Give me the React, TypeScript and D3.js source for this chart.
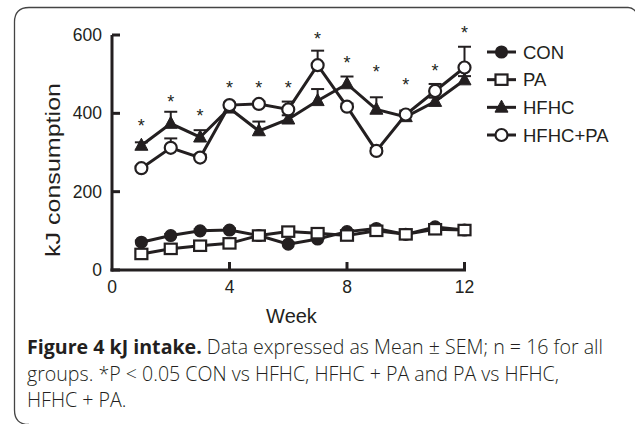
import React from "react";
import * as d3 from "d3";

const weeks = [1, 2, 3, 4, 5, 6, 7, 8, 9, 10, 11, 12];
const conMean = [71, 88, 100, 102, 88, 66, 79, 98, 106, 91, 110, 102];
const conSem = [4, 4, 4, 4, 4, 4, 4, 4, 4, 4, 4, 4];
const paMean = [41, 54, 62, 68, 88, 98, 94, 88, 100, 91, 104, 102];
const paSem = [4, 4, 4, 4, 4, 4, 4, 4, 4, 4, 4, 4];
const hfhcMean = [318, 374, 339, 413, 355, 385, 432, 475, 410, 391, 430, 485];
const hfhcSem = [8, 30, 18, 8, 24, 10, 30, 19, 31, 8, 10, 10];
const hfhcPaMean = [260, 312, 287, 421, 424, 410, 523, 417, 304, 397, 457, 517];
const hfhcPaSem = [6, 24, 8, 6, 6, 20, 37, 8, 8, 10, 18, 53];
const starValues = [375, 437, 402, 472, 472, 472, 597, 536, 513, 479, 517, 613];
const xTicks = [0, 4, 8, 12];
const yTicks = [0, 200, 400, 600];
const seriesNames = ["CON", "PA", "HFHC", "HFHC+PA"];
const captionLines = [
  { bold: "Figure 4 kJ intake.", rest: " Data expressed as Mean \u00b1 SEM; n = 16 for all" },
  { bold: "", rest: "groups. *P < 0.05 CON vs HFHC, HFHC + PA and PA vs HFHC," },
  { bold: "", rest: "HFHC + PA." },
];

const W = 635;
const H = 424;
const x = d3.scaleLinear().domain([0, 12]).range([112, 464.5]);
const y = d3.scaleLinear().domain([0, 600]).range([270, 35]);

type Kind = "filledCircle" | "openSquare" | "filledTriangle" | "openCircle";
const kinds: Kind[] = ["filledCircle", "openSquare", "filledTriangle", "openCircle"];
const means = [conMean, paMean, hfhcMean, hfhcPaMean];
const sems = [conSem, paSem, hfhcSem, hfhcPaSem];

function Marker({ kind, cx, cy }: { kind: Kind; cx: number; cy: number }) {
  const c = "#231f20";
  if (kind === "filledCircle") return <circle cx={cx} cy={cy} r={5.8} fill={c} stroke={c} strokeWidth={1.5} />;
  if (kind === "openCircle") return <circle cx={cx} cy={cy} r={6} fill="#fff" stroke={c} strokeWidth={2.2} />;
  if (kind === "openSquare")
    return <rect x={cx - 6} y={cy - 5.2} width={12} height={10.4} fill="#fff" stroke={c} strokeWidth={2.2} />;
  const s = 13;
  const h = 12;
  const p = `M${cx},${cy - h * 0.6}L${cx + s / 2},${cy + h * 0.4}L${cx - s / 2},${cy + h * 0.4}Z`;
  return <path d={p} fill={c} stroke={c} strokeWidth={1} />;
}

export default function App() {
  const c = "#231f20";
  const line = d3
    .line<number>()
    .x((_, i) => x(weeks[i]))
    .y((d) => y(d));
  const axisFont = "'Liberation Sans', Arial, sans-serif";
  const legendY = d3.scalePoint<string>().domain(seriesNames).range([52, 135]);
  return (
    <svg width={W} height={H} style={{ position: "absolute", left: 0, top: 0 }}>
      <rect x={0} y={0} width={W} height={H} fill="#fff" />
      <path
        d={`M29,424.5 Q14.5,424.5 14.5,410 L14.5,22 Q14.5,7.5 29,7.5 L628,7.5 Q633,7.5 636,12`}
        fill="none"
        stroke="#444"
        strokeWidth={1.3}
      />
      {/* axes */}
      <line x1={x(0)} x2={x(0)} y1={y(600)} y2={y(0) + 1.5} stroke={c} strokeWidth={3} />
      <line x1={x(0) - 1.5} x2={x(12) + 1.5} y1={y(0)} y2={y(0)} stroke={c} strokeWidth={3} />
      {yTicks.map((t) => (
        <g key={"y" + t}>
          <line x1={x(0)} x2={x(0) + 8} y1={y(t)} y2={y(t)} stroke={c} strokeWidth={3} />
          <text x={102} y={y(t) + 6} textAnchor="end" fontSize={17.5} fontFamily={axisFont} fill={c}>
            {t}
          </text>
        </g>
      ))}
      {xTicks.map((t) => (
        <g key={"x" + t}>
          {t > 0 && <line x1={x(t)} x2={x(t)} y1={y(0)} y2={y(0) - 8} stroke={c} strokeWidth={3} />}
          <text x={x(t)} y={293} textAnchor="middle" fontSize={17.5} fontFamily={axisFont} fill={c}>
            {t}
          </text>
        </g>
      ))}
      <text x={291.5} y={323} textAnchor="middle" fontSize={20} fontFamily={axisFont} fill={c}>
        Week
      </text>
      <text
        transform="translate(60,170) rotate(-90)"
        textAnchor="middle"
        fontSize={20}
        fontFamily={axisFont}
        fill={c}
        textLength={174}
        lengthAdjust="spacingAndGlyphs"
      >
        kJ consumption
      </text>
      {/* series */}
      {means.map((m, si) => (
        <g key={"s" + si}>
          <path d={line(m) || ""} fill="none" stroke={c} strokeWidth={3} strokeLinejoin="miter" />
        </g>
      ))}
      {means.map((m, si) => (
        <g key={"e" + si}>
          {m.map((v, i) => (
            <g key={i}>
              <line x1={x(weeks[i])} x2={x(weeks[i])} y1={y(v)} y2={y(v + sems[si][i])} stroke={c} strokeWidth={2} />
              <line
                x1={x(weeks[i]) - 6.5}
                x2={x(weeks[i]) + 6.5}
                y1={y(v + sems[si][i])}
                y2={y(v + sems[si][i])}
                stroke={c}
                strokeWidth={2}
              />
            </g>
          ))}
        </g>
      ))}
      {means.map((m, si) => (
        <g key={"m" + si}>
          {m.map((v, i) => (
            <Marker key={i} kind={kinds[si]} cx={x(weeks[i])} cy={y(v)} />
          ))}
        </g>
      ))}
      {starValues.map((v, i) => (
        <text key={"st" + i} x={x(weeks[i])} y={y(v) + 9} textAnchor="middle" fontSize={18} fontFamily={axisFont} fill={c}>
          *
        </text>
      ))}
      {/* legend */}
      {seriesNames.map((n, i) => {
        const ly = legendY(n) as number;
        return (
          <g key={"l" + n}>
            <line x1={487} x2={516} y1={ly} y2={ly} stroke={c} strokeWidth={3} />
            <Marker kind={kinds[i]} cx={501.5} cy={ly} />
            <text x={523} y={ly + 6.5} fontSize={18.5} fontFamily={axisFont} fill={c}>
              {n}
            </text>
          </g>
        );
      })}
      {/* caption */}
      {captionLines.map((l, i) => (
        <text key={"c" + i} x={27} y={354 + i * 26.5} fontSize={19.6} fontFamily="'Open Sans', sans-serif" fill={c}>
          {l.bold && <tspan fontWeight="bold">{l.bold}</tspan>}
          <tspan fontWeight={300}>{l.rest}</tspan>
        </text>
      ))}
    </svg>
  );
}
